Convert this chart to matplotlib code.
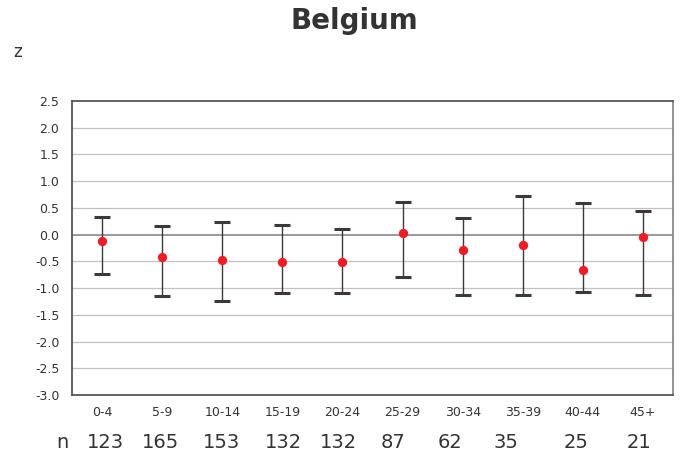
import matplotlib
matplotlib.use("Agg")
import matplotlib.pyplot as plt
import numpy as np

age_groups = ["0-4", "5-9", "10-14", "15-19", "20-24", "25-29", "30-34", "35-39", "40-44", "45+"]
z_mean = [-0.11, -0.41, -0.47, -0.51, -0.51, 0.03, -0.29, -0.19, -0.66, -0.04]
z_upper = [0.33, 0.17, 0.23, 0.18, 0.10, 0.61, 0.31, 0.73, 0.60, 0.45]
z_lower = [-0.74, -1.15, -1.25, -1.09, -1.09, -0.79, -1.13, -1.13, -1.08, -1.13]
n_counts = [123, 165, 153, 132, 132, 87, 62, 35, 25, 21]
y_ticks = [2.5, 2.0, 1.5, 1.0, 0.5, 0.0, -0.5, -1.0, -1.5, -2.0, -2.5, -3.0]

# horizontal placement (in pixels) of the sample-size row beneath the axis
n_label_px = [105, 160, 221, 283, 338, 393, 450, 506, 576, 639]

W, H = 681, 459
fig = plt.figure(figsize=(W / 100, H / 100), dpi=100)
ax = fig.add_axes([72 / W, 1 - 395 / H, (673 - 72) / W, (395 - 101) / H])

x = np.arange(len(age_groups))
mean = np.array(z_mean)
yerr = np.vstack([mean - np.array(z_lower), np.array(z_upper) - mean])

for t in y_ticks:
    if t == 0.0:
        ax.axhline(t, color="#8c8888", lw=1.2, zorder=1)
    elif t in (2.5, -3.0):
        continue
    else:
        ax.axhline(t, color="#c8bebe", lw=0.9, zorder=1)

ax.errorbar(x, mean, yerr=yerr, fmt="none", ecolor="#3a3a3a", elinewidth=1.0,
            capsize=5.5, capthick=2.2, zorder=2)
ax.scatter(x, mean, s=45, color="#ee1c25", zorder=3, linewidths=0)

ax.set_xlim(-0.5, len(age_groups) - 0.5)
ax.set_ylim(-3.0, 2.5)
ax.set_yticks(y_ticks)
ax.set_yticklabels([f"{t:.1f}" for t in y_ticks])
ax.set_xticks(x)
ax.set_xticklabels(age_groups)
ax.tick_params(axis="both", length=0, labelsize=9, colors="#333333")
ax.tick_params(axis="y", pad=9)
ax.tick_params(axis="x", pad=8)

for side in ("left", "bottom", "top"):
    ax.spines[side].set_color("#5a5555")
    ax.spines[side].set_linewidth(1.3)
ax.spines["right"].set_color("#8c8888")
ax.spines["right"].set_linewidth(1.3)

fig.text(354 / W, 1 - 21 / H, "Belgium", ha="center", va="center",
         fontsize=20, fontweight="bold", color="#333333")
fig.text(18 / W, 1 - 52 / H, "z", ha="center", va="center",
         fontsize=12, color="#333333")
fig.text(62 / W, 1 - 443 / H, "n", ha="center", va="center",
         fontsize=14, color="#333333")

for px, n in zip(n_label_px, n_counts):
    fig.text(px / W, 1 - 443 / H, str(n), ha="center", va="center",
             fontsize=14, color="#333333")

fig.savefig("out.png", dpi=100)
